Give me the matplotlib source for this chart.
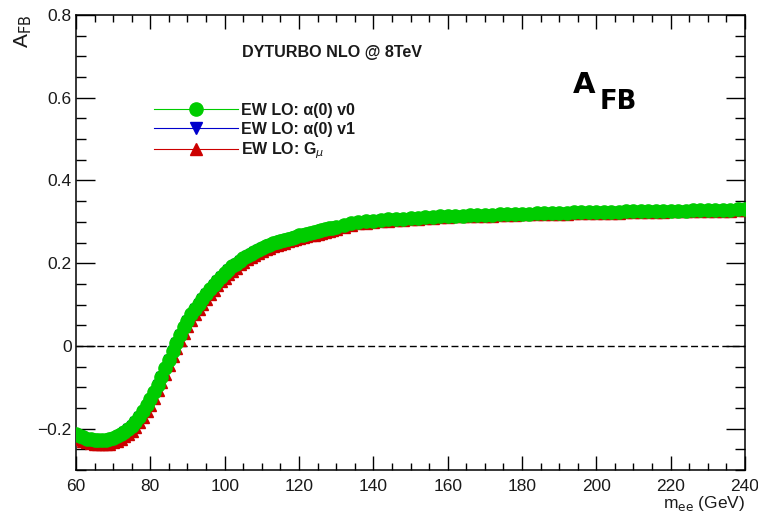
import matplotlib
matplotlib.use("Agg")
import matplotlib.pyplot as plt
from matplotlib.lines import Line2D
from matplotlib.ticker import MultipleLocator, FuncFormatter

plt.rcParams['font.family'] = ['Liberation Sans', 'DejaVu Sans']

# m_ee (GeV): 1 GeV steps up to 130, then 2 GeV steps
mass = list(range(60, 131)) + list(range(132, 241, 2))

# EW LO: alpha(0) v0
afb_v0 = [-0.214, -0.218, -0.221, -0.224, -0.226, -0.227, -0.228, -0.228, -0.228, -0.226,
          -0.223, -0.219, -0.214, -0.208, -0.201, -0.193, -0.183, -0.171, -0.158, -0.144,
          -0.129, -0.112, -0.094, -0.074, -0.054, -0.033, -0.012, 0.008, 0.027, 0.045,
          0.061, 0.076, 0.090, 0.102, 0.114, 0.126, 0.137, 0.148, 0.158, 0.167,
          0.176, 0.184, 0.192, 0.199, 0.206, 0.212, 0.218, 0.223, 0.228, 0.233,
          0.237, 0.241, 0.244, 0.248, 0.251, 0.254, 0.256, 0.259, 0.262, 0.264,
          0.267, 0.269, 0.271, 0.273, 0.275, 0.277, 0.280, 0.282, 0.284, 0.286,
          0.288,
          0.292, 0.296, 0.299, 0.301, 0.303, 0.305, 0.306, 0.307, 0.308, 0.309,
          0.310, 0.311, 0.312, 0.313, 0.314, 0.315, 0.315, 0.316, 0.316, 0.317,
          0.317, 0.318, 0.319, 0.319, 0.320, 0.320, 0.321, 0.321, 0.322, 0.322,
          0.322, 0.323, 0.323, 0.323, 0.324, 0.324, 0.324, 0.324, 0.325, 0.325,
          0.325, 0.326, 0.326, 0.326, 0.327, 0.327, 0.327, 0.328, 0.328, 0.328,
          0.329, 0.329, 0.329, 0.330, 0.330]

# EW LO: alpha(0) v1
afb_v1 = [-0.215, -0.219, -0.222, -0.225, -0.227, -0.228, -0.229, -0.229, -0.229, -0.227,
          -0.224, -0.220, -0.215, -0.209, -0.202, -0.194, -0.184, -0.172, -0.159, -0.145,
          -0.130, -0.113, -0.095, -0.075, -0.055, -0.034, -0.013, 0.007, 0.026, 0.044,
          0.060, 0.075, 0.089, 0.101, 0.113, 0.125, 0.136, 0.147, 0.157, 0.166,
          0.175, 0.183, 0.191, 0.198, 0.205, 0.211, 0.217, 0.222, 0.227, 0.232,
          0.236, 0.240, 0.243, 0.247, 0.250, 0.253, 0.255, 0.258, 0.261, 0.263,
          0.266, 0.268, 0.270, 0.272, 0.274, 0.276, 0.279, 0.281, 0.283, 0.285,
          0.287,
          0.291, 0.295, 0.298, 0.300, 0.302, 0.304, 0.305, 0.306, 0.307, 0.308,
          0.309, 0.310, 0.311, 0.312, 0.313, 0.314, 0.314, 0.315, 0.315, 0.316,
          0.316, 0.317, 0.318, 0.318, 0.319, 0.319, 0.320, 0.320, 0.321, 0.321,
          0.321, 0.322, 0.322, 0.322, 0.323, 0.323, 0.323, 0.323, 0.324, 0.324,
          0.324, 0.325, 0.325, 0.325, 0.326, 0.326, 0.326, 0.327, 0.327, 0.327,
          0.328, 0.328, 0.328, 0.329, 0.329]

# EW LO: G_mu
afb_gmu = [-0.222, -0.226, -0.229, -0.232, -0.234, -0.236, -0.237, -0.237, -0.237, -0.236,
           -0.233, -0.229, -0.225, -0.219, -0.213, -0.205, -0.196, -0.184, -0.171, -0.157,
           -0.142, -0.125, -0.107, -0.087, -0.067, -0.046, -0.025, -0.005, 0.014, 0.032,
           0.048, 0.063, 0.077, 0.089, 0.101, 0.113, 0.125, 0.136, 0.147, 0.156,
           0.165, 0.174, 0.182, 0.189, 0.197, 0.203, 0.209, 0.215, 0.220, 0.225,
           0.229, 0.234, 0.237, 0.241, 0.244, 0.247, 0.250, 0.253, 0.256, 0.258,
           0.261, 0.263, 0.265, 0.267, 0.269, 0.271, 0.274, 0.276, 0.278, 0.280,
           0.282,
           0.288, 0.292, 0.296, 0.298, 0.300, 0.302, 0.303, 0.304, 0.305, 0.306,
           0.308, 0.309, 0.310, 0.311, 0.312, 0.313, 0.313, 0.314, 0.314, 0.315,
           0.315, 0.316, 0.317, 0.317, 0.318, 0.318, 0.319, 0.319, 0.320, 0.320,
           0.320, 0.321, 0.321, 0.321, 0.322, 0.322, 0.322, 0.322, 0.323, 0.323,
           0.323, 0.324, 0.324, 0.324, 0.325, 0.325, 0.325, 0.326, 0.326, 0.326,
           0.327, 0.327, 0.327, 0.328, 0.328]

labels = ["EW LO: \u03b1(0) v0", "EW LO: \u03b1(0) v1", "EW LO: G$_\\mu$"]

W, H = 758, 512
fig = plt.figure(figsize=(W / 100, H / 100), dpi=100)
ax = fig.add_axes([76 / W, 42 / H, 669 / W, 455 / H])

# red under blue under green, like the original
ax.plot(mass, afb_gmu, color='#cc0000', lw=0.8, marker='^', ms=8.5, mec='#cc0000', zorder=3)
ax.plot(mass, afb_v1, color='#0000cc', lw=0.8, marker='v', ms=7, mec='#0000cc', zorder=4)
ax.plot(mass, afb_v0, color='#00cc00', lw=0.8, marker='o', ms=9.5, mec='#00cc00', zorder=5)

ax.axhline(0, color='black', lw=1, linestyle=(0, (5, 2.5)), zorder=2)

ax.set_xlim(60, 240)
ax.set_ylim(-0.3, 0.8)
ax.xaxis.set_major_locator(MultipleLocator(20))
ax.xaxis.set_minor_locator(MultipleLocator(5))
ax.yaxis.set_major_locator(MultipleLocator(0.2))
ax.yaxis.set_minor_locator(MultipleLocator(0.05))
ax.yaxis.set_major_formatter(FuncFormatter(lambda v, p: ('%g' % round(v, 2)).replace('-', '\u2212')))

for s in ax.spines.values():
    s.set_linewidth(1.1)
ax.tick_params(which='both', direction='in', top=True, right=True, width=1, labelsize=12.5, labelcolor='#1a1a1a')
ax.tick_params(axis='x', which='major', length=10, pad=6.5)
ax.tick_params(axis='x', which='minor', length=5)
ax.tick_params(axis='y', which='major', length=14, pad=3)
ax.tick_params(axis='y', which='minor', length=7)

fig.text(34 / W, 1 - 15 / H, "A$_{\\rm FB}$", rotation=90, ha='right', va='top', fontsize=15, color='#1a1a1a')
fig.text(745 / W, 1 - 508 / H, "m$_{\\rm ee}$ (GeV)", ha='right', va='baseline', fontsize=12.5, color='#1a1a1a')

fig.text(242 / W, 1 - 53 / H, "DYTURBO NLO @ 8TeV", ha='left', va='center', fontsize=11.6, fontweight='bold', color='#1a1a1a')

fig.text(573 / W, 1 - 93 / H, "A", ha='left', va='baseline', fontsize=21, fontweight='bold', family='DejaVu Sans')
fig.text(600 / W, 1 - 109 / H, "FB", ha='left', va='baseline', fontsize=18.5, fontweight='bold', family='DejaVu Sans')

# legend proxies so the legend markers keep their own sizes
handles = [Line2D([], [], color='#00cc00', lw=0.8, marker='o', ms=9.5),
           Line2D([], [], color='#0000cc', lw=0.8, marker='v', ms=8.5),
           Line2D([], [], color='#cc0000', lw=0.8, marker='^', ms=9)]
leg = ax.legend(handles, labels, loc='upper left', bbox_to_anchor=(154 / W, 1 - 102.5 / H),
                bbox_transform=fig.transFigure, frameon=False, numpoints=1, handlelength=5.25,
                handletextpad=0.2, labelspacing=0.26, borderpad=0, borderaxespad=0,
                prop={'size': 11.5, 'weight': 'bold'})
for t in leg.get_texts():
    t.set_color('#1a1a1a')

fig.savefig("out.png", dpi=100)
